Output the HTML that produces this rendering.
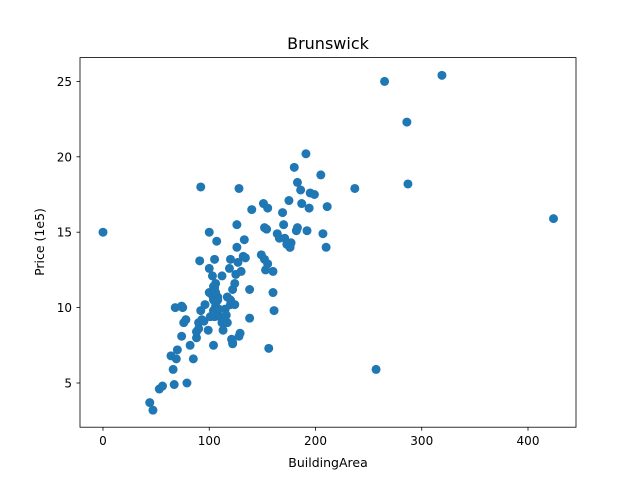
<!DOCTYPE html>
<html><head><meta charset="utf-8"><style>
body{margin:0;background:#fff}
svg text{font-family:"DejaVu Sans","Liberation Sans",sans-serif;fill:#000}
</style></head><body>
<svg id="chart" width="640" height="480" viewBox="0 0 640 480" xmlns="http://www.w3.org/2000/svg">
<rect width="640" height="480" fill="#fff"/>
<text x="328" y="49" font-size="16" text-anchor="middle">Brunswick</text>
<g id="marks"></g>
<rect x="80" y="57.6" width="496" height="369.6" fill="none" stroke="#000" stroke-width="0.8"/>
<g id="axes"></g>
<text x="328" y="467" font-size="12.5" text-anchor="middle">BuildingArea</text>
<text transform="translate(44,242) rotate(-90)" font-size="12.5" text-anchor="middle">Price (1e5)</text>
</svg>
<script>
const xTicks=[0,100,200,300,400];
const yTicks=[5,10,15,20,25];
const areaValues=[0,44,47,53,56,66,67,79,64,69,70,74,76,78,75,68,74,82,85,88,88,90,90,93,95,92,96,99,101,104,105,108,103,104,104,106,109,110,112,113,100,103,100,106,105,91,100,92,104,106,105,107,108,112,115,116,117,117,119,120,120,121,122,122,120,122,124,124,126,128,125,126,127,128,129,130,132,133,134,138,138,140,149,151,152,152,153,155,155,154,156,160,160,161,164,166,169,170,171,173,175,176,176,177,180,182,183,183,186,187,191,192,194,195,199,205,207,210,211,237,257,265,286,287,319,424];
const priceValues=[15.0,3.7,3.2,4.6,4.8,5.9,4.9,5.0,6.8,6.6,7.2,8.1,9.0,9.2,10.0,10.0,10.1,7.5,6.6,8.0,8.4,8.6,9.0,9.2,9.1,9.8,10.2,8.5,9.4,7.5,9.4,10.7,10.8,10.5,9.8,10.1,9.9,9.4,9.0,8.5,12.6,12.1,11.0,11.6,11.3,13.1,15.0,18.0,11.4,11.0,13.2,14.4,10.5,12.1,9.9,9.5,9.0,10.7,12.6,13.2,10.2,7.9,7.6,7.7,10.5,11.2,10.2,11.6,15.5,17.9,12.2,14.0,13.0,8.1,8.3,12.4,13.4,14.5,13.3,11.2,9.3,16.5,13.5,16.9,15.3,13.2,12.5,16.6,12.9,15.2,7.3,12.4,11.0,9.8,14.9,14.6,16.3,15.5,14.6,14.2,17.1,14.0,14.0,14.3,19.3,15.1,15.3,18.3,17.8,16.9,20.2,15.1,16.6,17.6,17.5,18.8,14.9,14.0,16.7,17.9,5.9,25.0,22.3,18.2,25.4,15.9];
const NS="http://www.w3.org/2000/svg";
function xs(v){return 103+v*1.0625;}
function ys(v){return 383-(v-5)*15.08;}
const marks=document.getElementById('marks');
for(let i=0;i<areaValues.length;i++){
  const c=document.createElementNS(NS,'circle');
  c.setAttribute('cx',xs(areaValues[i]));c.setAttribute('cy',ys(priceValues[i]));
  c.setAttribute('r',4.5);c.setAttribute('fill','#1f77b4');
  
  
  marks.appendChild(c);
}
const axes=document.getElementById('axes');
xTicks.forEach(t=>{
  const x=xs(t);
  const l=document.createElementNS(NS,'line');
  l.setAttribute('x1',x);l.setAttribute('x2',x);l.setAttribute('y1',427.2);l.setAttribute('y2',430.7);l.setAttribute('stroke','#000');l.setAttribute('stroke-width',0.8);
  
  
  axes.appendChild(l);
  const tx=document.createElementNS(NS,'text');
  tx.setAttribute('x',x);tx.setAttribute('y',445);tx.setAttribute('font-size','12');tx.setAttribute('text-anchor','middle');
  tx.textContent=t;
  
  
  axes.appendChild(tx);
});
yTicks.forEach(t=>{
  const y=ys(t);
  const l=document.createElementNS(NS,'line');
  l.setAttribute('x1',76.5);l.setAttribute('x2',80);l.setAttribute('y1',y);l.setAttribute('y2',y);l.setAttribute('stroke','#000');l.setAttribute('stroke-width',0.8);
  
  
  axes.appendChild(l);
  const tx=document.createElementNS(NS,'text');
  tx.setAttribute('x',72);tx.setAttribute('y',y+4.5);tx.setAttribute('font-size','12');tx.setAttribute('text-anchor','end');
  tx.textContent=t;
  
  
  axes.appendChild(tx);
});
</script>
</body></html>
